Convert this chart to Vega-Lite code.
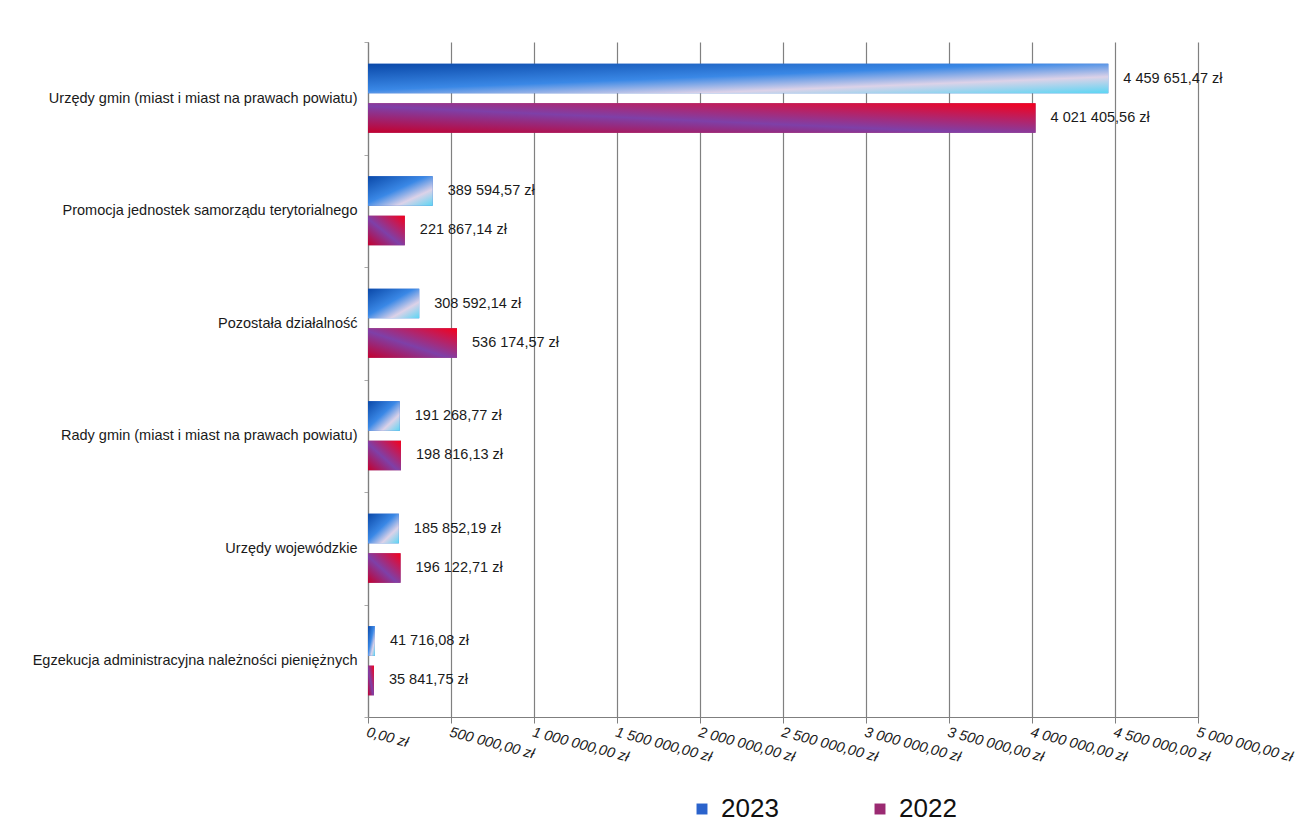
{
  "$schema": "https://vega.github.io/schema/vega-lite/v6.json",
  "autosize": {"type": "none"},
  "width": 830,
  "height": 675,
  "padding": {"left": 368, "top": 42, "right": 114, "bottom": 120},
  "background": "white",
  "config": {
    "locale": {"number": {"decimal": ",", "thousands": " ", "grouping": [3], "currency": ["", " zł"]}},
    "font": "Liberation Sans",
    "view": {"stroke": null}
  },
  "data": {
    "values": [
      {"category": "Urzędy gmin (miast i miast na prawach powiatu)", "year": "2023", "value": 4459651.47},
      {"category": "Urzędy gmin (miast i miast na prawach powiatu)", "year": "2022", "value": 4021405.56},
      {"category": "Promocja jednostek samorządu terytorialnego", "year": "2023", "value": 389594.57},
      {"category": "Promocja jednostek samorządu terytorialnego", "year": "2022", "value": 221867.14},
      {"category": "Pozostała działalność", "year": "2023", "value": 308592.14},
      {"category": "Pozostała działalność", "year": "2022", "value": 536174.57},
      {"category": "Rady gmin (miast i miast na prawach powiatu)", "year": "2023", "value": 191268.77},
      {"category": "Rady gmin (miast i miast na prawach powiatu)", "year": "2022", "value": 198816.13},
      {"category": "Urzędy wojewódzkie", "year": "2023", "value": 185852.19},
      {"category": "Urzędy wojewódzkie", "year": "2022", "value": 196122.71},
      {"category": "Egzekucja administracyjna należności pieniężnych", "year": "2023", "value": 41716.08},
      {"category": "Egzekucja administracyjna należności pieniężnych", "year": "2022", "value": 35841.75}
    ]
  },
  "encoding": {
    "y": {
      "field": "category", "type": "nominal", "sort": null, "title": null,
      "scale": {"paddingInner": 0, "paddingOuter": 0},
      "axis": {
        "domainColor": "#7f7f7f", "domainWidth": 1.2,
        "tickBand": "extent", "tickSize": 4, "tickColor": "#aaaaaa",
        "labelFontSize": 14.5, "labelColor": "#1a1a1a", "labelPadding": 7, "labelLimit": 400
      }
    },
    "yOffset": {
      "field": "year", "type": "nominal", "sort": ["2023", "2022"],
      "scale": {"paddingInner": 0.25, "paddingOuter": 0.55}
    },
    "x": {
      "field": "value", "type": "quantitative", "title": null,
      "scale": {"domain": [0, 5000000], "nice": false},
      "axis": {
        "values": [0, 500000, 1000000, 1500000, 2000000, 2500000, 3000000, 3500000, 4000000, 4500000, 5000000],
        "format": "$,.2f",
        "grid": true, "gridColor": "#808080", "gridOpacity": 1, "gridWidth": 1.2,
        "domainColor": "#7f7f7f", "domainWidth": 1.2,
        "tickColor": "#7f7f7f", "tickSize": 6,
        "labelAngle": 15, "labelAlign": "left", "labelBaseline": "top",
        "labelFontStyle": "italic", "labelFontSize": 14.5, "labelColor": "#1a1a1a",
        "labelPadding": 2, "labelOverlap": false, "labelBound": false, "labelFlush": false
      }
    }
  },
  "layer": [
    {
      "mark": {"type": "bar"},
      "encoding": {
        "color": {
          "field": "year", "type": "nominal",
          "scale": {"domain": ["2023", "2022"], "range": ["#2b63cc", "#9b2a72"]},
          "legend": {
            "title": null, "orient": "none", "direction": "horizontal",
            "legendX": 321, "legendY": 754, "padding": 0,
            "symbolType": "square", "symbolSize": 120, "symbolStrokeWidth": 0,
            "labelFontSize": 26, "labelColor": "#111111", "labelOffset": 6,
            "columnPadding": 88
          }
        }
      }
    },
    {
      "transform": [{"filter": "datum.year == '2023'"}],
      "mark": {
        "type": "bar",
        "color": {
          "gradient": "linear", "x1": 0, "y1": 0, "x2": 1, "y2": 1,
          "stops": [
            {"offset": 0, "color": "#0a48a8"},
            {"offset": 0.45, "color": "#3a88e6"},
            {"offset": 0.72, "color": "#dcd2e8"},
            {"offset": 1, "color": "#5ad6f4"}
          ]
        }
      },
      "encoding": {}
    },
    {
      "transform": [{"filter": "datum.year == '2022'"}],
      "mark": {
        "type": "bar",
        "color": {
          "gradient": "linear", "x1": 0, "y1": 1, "x2": 1, "y2": 0,
          "stops": [
            {"offset": 0, "color": "#c4002e"},
            {"offset": 0.45, "color": "#7e40a8"},
            {"offset": 1, "color": "#f5001c"}
          ]
        }
      },
      "encoding": {}
    },
    {
      "mark": {"type": "text", "align": "left", "baseline": "middle", "dx": 15, "fontSize": 14.5, "color": "#1a1a1a"},
      "encoding": {
        "text": {"field": "value", "type": "quantitative", "format": "$,.2f"}
      }
    }
  ]
}
